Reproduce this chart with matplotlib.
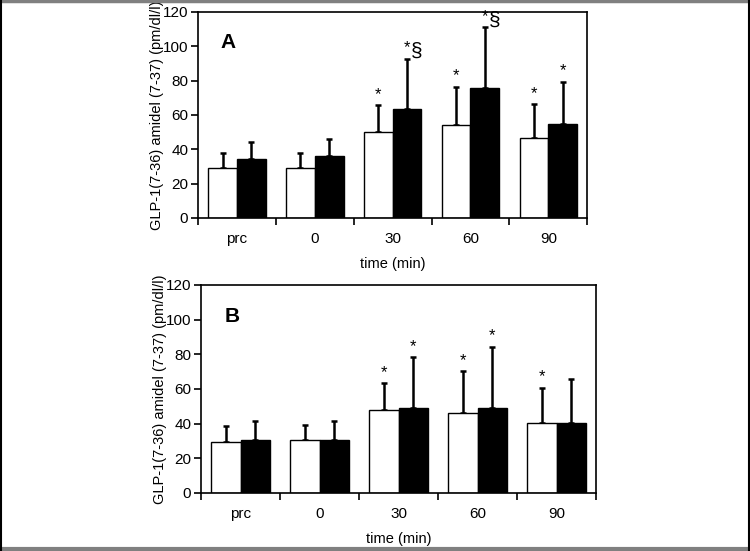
import numpy as np
import matplotlib.pyplot as plt
from matplotlib.lines import Line2D

plt.rcParams['font.family'] = ['Liberation Sans', 'DejaVu Sans']

categories = ['prc', '0', '30', '60', '90']

# panel A
a_white = [29, 29, 49.8, 53.9, 46.7]
a_white_err = [9, 8.6, 15.8, 22.5, 19.5]
a_black = [34.2, 36, 63.7, 75.7, 54.6]
a_black_err = [10.2, 10, 29.1, 35.3, 24.7]
a_white_marks = ['', '', '*', '*', '*']
a_black_marks = ['', '', '*§', '*§', '*']

# panel B
b_white = [29.2, 30.3, 47.6, 46.4, 40.1]
b_white_err = [9.2, 8.9, 15.7, 23.8, 20.7]
b_black = [30.7, 30.3, 48.8, 48.8, 40.1]
b_black_err = [11, 11.4, 29.5, 35.7, 25.9]
b_white_marks = ['', '', '*', '*', '*']
b_black_marks = ['', '', '*', '*', '']

ylabel = 'GLP-1(7-36) amidel (7-37) (pm/dl/l)'

fig = plt.figure(figsize=(7.5, 5.51), dpi=100)
axA = fig.add_axes([0.264, 0.6044, 0.519, 0.3739])
axB = fig.add_axes([0.268, 0.1053, 0.527, 0.3775])

w = 0.37


def draw_panel(ax, white, werr, black, berr, wmarks, bmarks, letter):
    x = np.arange(len(categories))
    ax.bar(x - w / 2, white, w, color='white', edgecolor='black', linewidth=1, zorder=2)
    ax.bar(x + w / 2, black, w, color='black', edgecolor='black', linewidth=1, zorder=2)
    ax.errorbar(x - w / 2, white, yerr=[np.zeros(len(x)), werr], fmt='none',
                ecolor='black', elinewidth=1.8, capsize=2.5, capthick=1.8, zorder=1)
    ax.errorbar(x + w / 2, black, yerr=[np.zeros(len(x)), berr], fmt='none',
                ecolor='black', elinewidth=1.8, capsize=2.5, capthick=1.8, zorder=1)
    tops_w = np.array(white) + np.array(werr)
    tops_b = np.array(black) + np.array(berr)
    for i in range(len(x)):
        if wmarks[i]:
            ax.text(x[i] - w / 2, tops_w[i] + 2, wmarks[i], ha='center', va='bottom',
                    fontsize=12, clip_on=False)
        if bmarks[i] == '*':
            ax.text(x[i] + w / 2, tops_b[i] + 2, '*', ha='center', va='bottom',
                    fontsize=12, clip_on=False)
        elif bmarks[i]:
            ax.text(x[i] + w / 2, tops_b[i] + 2, '*', ha='center', va='bottom',
                    fontsize=12, clip_on=False)
            ax.text(x[i] + w / 2 + 0.05, tops_b[i] - 1.5, '§', ha='left', va='bottom',
                    fontsize=15, clip_on=False)
    ax.set_xlim(-0.5, len(x) - 0.5)
    ax.set_ylim(0, 120)
    ax.set_yticks(range(0, 121, 20))
    ax.set_xticks(x)
    ax.set_xticklabels(categories)
    ax.set_xticks(np.arange(-0.5, len(x)), minor=True)
    ax.tick_params(axis='x', which='major', length=0, pad=10, labelsize=11)
    ax.tick_params(axis='x', which='minor', length=5, width=1.2, direction='out')
    ax.tick_params(axis='y', length=5, width=1.2, direction='out', labelsize=11, pad=2)
    for s in ax.spines.values():
        s.set_linewidth(1.2)
    ax.set_xlabel('time (min)', fontsize=10.5, labelpad=8)
    ax.set_ylabel(ylabel, fontsize=10.5, labelpad=-1)
    ax.text(-0.11, 102, letter, fontsize=15, fontweight='bold', ha='center', va='center')


draw_panel(axA, a_white, a_white_err, a_black, a_black_err, a_white_marks, a_black_marks, 'A')
draw_panel(axB, b_white, b_white_err, b_black, b_black_err, b_white_marks, b_black_marks, 'B')

# frame around figure
fig.add_artist(Line2D([0, 1], [0.998, 0.998], transform=fig.transFigure, color='#808080', lw=2.5))
fig.add_artist(Line2D([0, 1], [0.003, 0.003], transform=fig.transFigure, color='#808080', lw=3))
fig.add_artist(Line2D([0.001, 0.001], [0, 1], transform=fig.transFigure, color='black', lw=1.5))
fig.add_artist(Line2D([0.999, 0.999], [0, 1], transform=fig.transFigure, color='black', lw=1.5))

fig.savefig('out.png', dpi=100)
